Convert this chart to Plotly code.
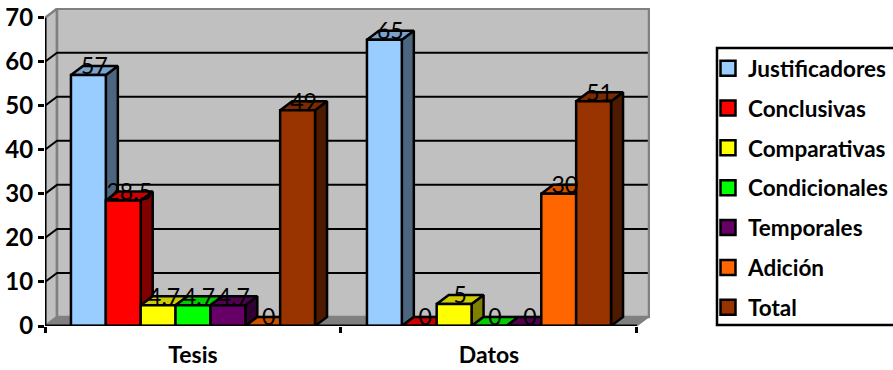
import plotly.graph_objects as go

# Chart data: one value per group (Tesis, Datos)
groups = ["Tesis", "Datos"]
justificadores = [57, 65]
conclusivas = [28.5, 0]
comparativas = [4.7, 5]
condicionales = [4.7, 0]
temporales = [4.7, 0]
adicion = [0, 30]
total = [49, 51]
y_ticks = [0, 10, 20, 30, 40, 50, 60, 70]

series = [
    ("Justificadores", justificadores, "#99CCFF", "#7AA3CC", "#4D6680"),
    ("Conclusivas", conclusivas, "#FF0000", "#CC0000", "#800000"),
    ("Comparativas", comparativas, "#FFFF00", "#CCCC00", "#808000"),
    ("Condicionales", condicionales, "#00FF00", "#00CC00", "#008000"),
    ("Temporales", temporales, "#660066", "#520052", "#330033"),
    ("Adición", adicion, "#FF6600", "#CC5200", "#803300"),
    ("Total", total, "#993300", "#7A2900", "#4D1A00"),
]

# Pseudo-3D geometry, in axis units
BAR_W = 0.1178
DX = 0.0406
DY = 2.05
LABEL_LIFT = 1.45
X0, X1 = -0.5, 1.5
FONT = "Lato"
WALL = "#C0C0C0"
EDGE = "#808080"

fig = go.Figure()


def poly(xs, ys, fill, line="black", width=2.5):
    fig.add_trace(go.Scatter(
        x=xs + xs[:1], y=ys + ys[:1], mode="lines", fill="toself", fillcolor=fill,
        line=dict(color=line, width=width), showlegend=False, hoverinfo="skip",
        cliponaxis=False,
    ))


def stroke(xs, ys, color="black", width=2):
    fig.add_trace(go.Scatter(
        x=xs, y=ys, mode="lines", line=dict(color=color, width=width),
        showlegend=False, hoverinfo="skip", cliponaxis=False,
    ))


# Walls and floor
top = y_ticks[-1]
poly([X0, X0 + DX, X0 + DX, X0], [0, DY, top + DY, top], WALL, EDGE, 2.5)
poly([X0 + DX, X1 + DX, X1 + DX, X0 + DX], [DY, DY, top + DY, top + DY], WALL, EDGE, 2.5)
poly([X0, X1, X1 + DX, X0 + DX], [0, 0, DY, DY], EDGE, EDGE, 1)

# Gridlines run across the side wall and the back wall
for t in y_ticks[1:-1]:
    stroke([X0, X0 + DX, X1 + DX - 0.004], [t, t + DY, t + DY])

# Bars, painted left to right so that each front covers its neighbour's side
labels_x, labels_y, labels_t = [], [], []
for g in range(len(groups)):
    for i, (name, values, front, lid, side) in enumerate(series):
        v = values[g]
        left = g + (i - 3.5) * BAR_W
        right = left + BAR_W
        poly([right, right + DX, right + DX, right], [0, DY, v + DY, v], side)
        poly([left, right, right + DX, left + DX], [v, v, v + DY, v + DY], lid)
        poly([left, right, right, left], [0, 0, v, v], front)
        labels_x.append((left + right) / 2 + DX / 2)
        labels_y.append(v + LABEL_LIFT)
        labels_t.append(f"{v:g}")

# Axis lines
stroke([X0, X1], [0, 0], "black", 3)
stroke([X0, X0], [0, top], "black", 3)

# Value labels
fig.add_trace(go.Scatter(
    x=labels_x, y=labels_y, text=labels_t, mode="text", textposition="middle center",
    textfont=dict(family=FONT, size=23, color="black"), showlegend=False,
    hoverinfo="skip", cliponaxis=False,
))

# Legend entries
for name, values, front, lid, side in series:
    fig.add_trace(go.Scatter(
        x=[None], y=[None], mode="markers", name=name, legendgroup=name,
        marker=dict(symbol="square", size=15, color=front, line=dict(color="black", width=2.5)),
    ))

fig.update_layout(
    width=893, height=370, autosize=False,
    margin=dict(l=45, r=243, t=8, b=44, autoexpand=False),
    paper_bgcolor="white", plot_bgcolor="white",
    showlegend=True,
    legend=dict(
        xref="container", yref="container", x=708 / 893, y=1 - 47 / 370,
        xanchor="left", yanchor="top", traceorder="grouped", tracegroupgap=7.6,
        maxheight=320,
        font=dict(family=FONT, size=22.5, color="black", weight="bold"), bgcolor="rgba(0,0,0,0)",
    ),
    xaxis=dict(
        range=[X0, X1 + 13 / 295.5], tickmode="array", tickvals=[0, 1], ticktext=groups,
        ticks="", showgrid=False, zeroline=False, showline=False, ticklabelstandoff=13,
        tickfont=dict(family=FONT, size=23, color="black", weight="bold"),
        minor=dict(tickmode="array", tickvals=[-0.5, 0.5, 1.5], ticks="outside",
                   ticklen=6, tickwidth=2.5, tickcolor="black", showgrid=False),
    ),
    yaxis=dict(
        range=[0, 72.2], tickmode="array", tickvals=y_ticks, ticks="outside", ticklen=6,
        tickwidth=2.5, tickcolor="black", showgrid=False, zeroline=False, showline=False,
        tickfont=dict(family=FONT, size=24, color="black", weight="bold"),
    ),
    shapes=[dict(type="rect", xref="paper", yref="paper",
                 x0=(717 - 45) / 605, x1=(900 - 45) / 605,
                 y0=(326 - 325) / 318, y1=(326 - 48) / 318,
                 line=dict(color="black", width=2.5), fillcolor="rgba(0,0,0,0)")],
)

fig.write_html("out.html")
